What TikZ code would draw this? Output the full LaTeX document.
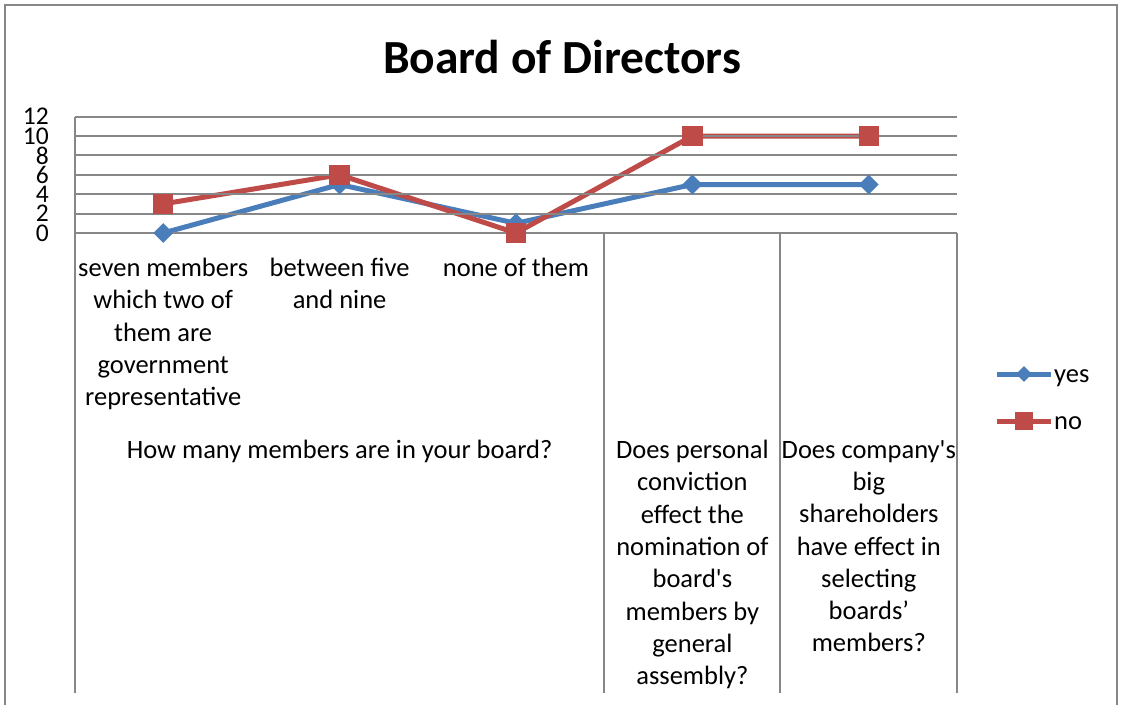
\documentclass[tikz,border=0pt]{standalone}
\usepackage{fontspec}
\setmainfont{Carlito}
\usepackage{tikz}
\usetikzlibrary{shapes.geometric,positioning,backgrounds}

\definecolor{yesblue}{HTML}{4A7EBB}
\definecolor{nored}{HTML}{BE4B48}
\definecolor{gridgray}{HTML}{878787}

\begin{document}
\begin{tikzpicture}[x=1pt,y=-1pt,
    gridline/.style={draw=gridgray,line width=2pt},
    yesline/.style={draw=yesblue,line width=5pt,line join=round},
    noline/.style={draw=nored,line width=5pt,line join=round},
    yesmark/.style={diamond,fill=yesblue,minimum size=20pt,inner sep=0pt},
    nomark/.style={rectangle,fill=nored,minimum size=20.5pt,inner sep=0pt},
    catlabel/.style={align=center,inner sep=0pt,anchor=north,font=\fontsize{26.5}{32.3}\selectfont},
    ticklabel/.style={anchor=east,inner sep=0pt,font=\fontsize{25.5}{25.5}\selectfont}]
    \useasboundingbox (0,0) rectangle (1124,705);
    \draw[gridline] (5,705) -- (5,5) -- (1117,5) -- (1117,705);
    \node[font=\fontsize{47.5}{57}\selectfont\bfseries] (title) at (562,57) {Board of Directors};
    % value axis
    \foreach \v in {2,4,...,12}
        \draw[gridline] (75,233-9.7*\v) -- (957,233-9.7*\v);
    \foreach \v in {0,2,...,12}
        \node[ticklabel] (t_\v) at (49,233-9.7*\v) {\v};
    \draw[gridline] (75,116.6) -- (75,693);
    \draw[gridline] (75,233) -- (957,233);
    \foreach \x in {604,780,957}
        \draw[gridline] (\x,233) -- (\x,693);
    % points
    \node[yesmark] (y_1) at (163.2,233)   {};
    \node[yesmark] (y_2) at (339.6,184.5) {};
    \node[yesmark] (y_3) at (516,223.3)   {};
    \node[yesmark] (y_4) at (692.4,184.5) {};
    \node[yesmark] (y_5) at (868.8,184.5) {};
    \node[nomark] (n_1) at (163.2,203.9) {};
    \node[nomark] (n_2) at (339.6,174.8) {};
    \node[nomark] (n_3) at (516,233)     {};
    \node[nomark] (n_4) at (692.4,136)   {};
    \node[nomark] (n_5) at (868.8,136)   {};
    \begin{pgfonlayer}{background}
        \draw[yesline] (y_1.center) -- (y_2.center) -- (y_3.center) -- (y_4.center) -- (y_5.center);
        \draw[noline] (n_1.center) -- (n_2.center) -- (n_3.center) -- (n_4.center) -- (n_5.center);
    \end{pgfonlayer}
    % categories
    \node[catlabel] (c_1) at (163.2,258) {seven members\\which two of\\them are\\government\\representative};
    \node[catlabel] (c_2) at (339.6,258) {between five\\and nine};
    \node[catlabel] (c_3) at (516,258) {none of them};
    \node[catlabel] (q_1) at (339.6,440) {How many members are in your board?};
    \node[catlabel] (q_2) at (692.4,440) {Does personal\\conviction\\effect the\\nomination of\\board\textquotesingle s\\members by\\general\\assembly?};
    \node[catlabel] (q_3) at (868.8,440) {Does company\textquotesingle s\\big\\shareholders\\have effect in\\selecting\\boards’\\members?};
    % legend
    \coordinate (ly_a) at (997,374);
    \coordinate (ly_b) at (1051,374);
    \coordinate (ln_a) at (997,421);
    \coordinate (ln_b) at (1051,421);
    \draw[yesline] (ly_a) -- (ly_b);
    \draw[noline] (ln_a) -- (ln_b);
    \node[yesmark,minimum size=16pt] (ly) at (1024,374) {};
    \node[nomark,minimum size=18.5pt] (ln) at (1024,421) {};
    \node[anchor=base west,inner sep=0pt,font=\fontsize{26.5}{32.3}\selectfont] (ly_t) at (1054,382) {yes};
    \node[anchor=base west,inner sep=0pt,font=\fontsize{26.5}{32.3}\selectfont] (ln_t) at (1054,429) {no};
\end{tikzpicture}
\end{document}
